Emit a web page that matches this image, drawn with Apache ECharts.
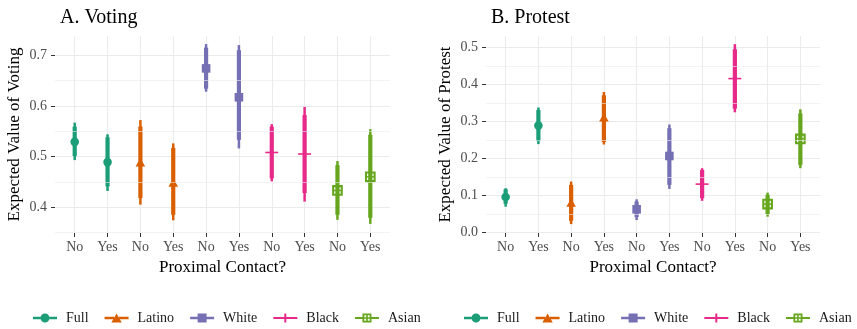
<!DOCTYPE html>
<html>
<head>
<meta charset="utf-8">
<script src="https://cdn.jsdelivr.net/npm/echarts@6/dist/echarts.min.js"></script>
<style>
html,body{margin:0;padding:0;background:#fff;}
#chart{width:857px;height:329px;}
</style>
</head>
<body>
<div id="chart"></div>
<script>
// ---- data ----
const groups = ['Full', 'Latino', 'White', 'Black', 'Asian'];
const contact = ['No', 'Yes'];
const panelTitles = ['A. Voting', 'B. Protest'];
const yTitles = ['Expected Value of Voting', 'Expected Value of Protest'];
const xTitle = 'Proximal Contact?';
const votingTicks = [0.4, 0.5, 0.6, 0.7];
const protestTicks = [0.0, 0.1, 0.2, 0.3, 0.4, 0.5];
const votingMinor = [0.35, 0.45, 0.55, 0.65];
const protestMinor = [0.05, 0.15, 0.25, 0.35, 0.45];

// per group: [No, Yes]
const votingEst  = [[0.529, 0.489], [0.487, 0.447], [0.674, 0.617], [0.508, 0.505], [0.433, 0.460]];
const votingLo95 = [[0.493, 0.432], [0.405, 0.374], [0.628, 0.516], [0.451, 0.411], [0.375, 0.367]];
const votingHi95 = [[0.567, 0.544], [0.572, 0.526], [0.722, 0.720], [0.564, 0.598], [0.491, 0.554]];
const votingLo66 = [[0.501, 0.441], [0.418, 0.385], [0.634, 0.533], [0.457, 0.428], [0.385, 0.379]];
const votingHi66 = [[0.559, 0.538], [0.559, 0.517], [0.715, 0.710], [0.559, 0.582], [0.483, 0.543]];

const protestEst  = [[0.096, 0.289], [0.079, 0.309], [0.063, 0.207], [0.131, 0.416], [0.077, 0.253]];
const protestLo95 = [[0.070, 0.239], [0.023, 0.238], [0.034, 0.118], [0.086, 0.325], [0.043, 0.174]];
const protestHi95 = [[0.120, 0.338], [0.138, 0.380], [0.090, 0.292], [0.174, 0.509], [0.108, 0.333]];
const protestLo66 = [[0.078, 0.247], [0.032, 0.245], [0.042, 0.129], [0.093, 0.335], [0.050, 0.183]];
const protestHi66 = [[0.117, 0.331], [0.129, 0.371], [0.084, 0.282], [0.169, 0.495], [0.102, 0.322]];

// ---- styling ----
const colors = ['#1B9E77', '#D95F02', '#7570B3', '#E7298A', '#66A61E'];
const FONT = "'Liberation Serif', 'Times New Roman', serif";
const GRID = '#EBEBEB';

// legend glyphs in a 24 x 9 box
const legendIcons = [
  'path://M0 3.25h7.6v2.5h-7.6z M16.4 3.25h7.6v2.5h-7.6z M7.5 4.5a4.5 4.5 0 1 0 9 0a4.5 4.5 0 1 0 -9 0z',
  'path://M0 3.25h9.5v2.5h-9.5z M14.5 3.25h9.5v2.5h-9.5z M12 0L17.2 9H6.8z',
  'path://M0 3.25h24v2.5h-24z M7.5 0h9v9h-9z',
  'path://M0 3.5h24v2h-24z M11 0h2v9h-2z',
  'path://M0 3.5h7.5v2h-7.5z M16.5 3.5h7.5v2h-7.5z M7.5 0h9v9h-9z M9.3 1.8v5.4h5.4v-5.4z M11.2 1.8h1.6v5.4h-1.6z M9.3 3.7h5.4v1.6h-5.4z'
];

const xLabels = [];
groups.forEach(() => contact.forEach(c => xLabels.push(c)));
const xIdx = xLabels.map((_, i) => i);

function markerShape(gi, cx, cy, color) {
  if (gi === 0) return {type: 'circle', shape: {cx, cy, r: 4.3}, style: {fill: color}};
  if (gi === 1) return {type: 'polygon', shape: {points: [[cx, cy - 5], [cx + 4.8, cy + 3.4], [cx - 4.8, cy + 3.4]]}, style: {fill: color}};
  if (gi === 2) return {type: 'rect', shape: {x: cx - 4.3, y: cy - 4.3, width: 8.6, height: 8.6}, style: {fill: color}};
  if (gi === 3) return {type: 'line', shape: {x1: cx - 6.5, y1: cy, x2: cx + 6.5, y2: cy}, style: {stroke: color, lineWidth: 1.6}};
  return {type: 'group', children: [
    {type: 'rect', shape: {x: cx - 4.3, y: cy - 4.3, width: 8.6, height: 8.6}, style: {fill: 'none', stroke: color, lineWidth: 2.1}},
    {type: 'line', shape: {x1: cx - 4.3, y1: cy, x2: cx + 4.3, y2: cy}, style: {stroke: color, lineWidth: 1.4}}
  ]};
}

function makeRender(gi) {
  return function (params, api) {
    const x = api.value(0);
    const p = api.coord([x, api.value(1)]);
    const a = api.coord([x, api.value(2)]);
    const b = api.coord([x, api.value(3)]);
    const c = api.coord([x, api.value(4)]);
    const d = api.coord([x, api.value(5)]);
    const color = colors[gi];
    return {type: 'group', children: [
      {type: 'line', shape: {x1: p[0], y1: a[1], x2: p[0], y2: b[1]}, style: {stroke: color, lineWidth: 2.5}},
      {type: 'line', shape: {x1: p[0], y1: c[1], x2: p[0], y2: d[1]}, style: {stroke: color, lineWidth: 4.2}},
      markerShape(gi, p[0], p[1], color)
    ]};
  };
}

function buildData(gi, est, lo, hi, lo2, hi2) {
  return contact.map((_, ci) => [gi * 2 + ci, est[gi][ci], lo[gi][ci], hi[gi][ci], lo2[gi][ci], hi2[gi][ci]]);
}

const panels = [
  {est: votingEst, lo: votingLo95, hi: votingHi95, lo2: votingLo66, hi2: votingHi66, ticks: votingTicks, minor: votingMinor, min: 0.349, max: 0.738, left: 55, width: 335},
  {est: protestEst, lo: protestLo95, hi: protestHi95, lo2: protestLo66, hi2: protestHi66, ticks: protestTicks, minor: protestMinor, min: -0.001, max: 0.531, left: 486, width: 334}
];

const grids = [], xAxes = [], yAxes = [], series = [], titles = [], legends = [];
panels.forEach((pn, k) => {
  grids.push({left: pn.left, width: pn.width, top: 36, height: 197, containLabel: false});
  xAxes.push({
    type: 'value', gridIndex: k, min: -0.6, max: 9.6,
    name: xTitle, nameLocation: 'middle', nameGap: 25,
    nameTextStyle: {fontFamily: FONT, fontSize: 17, color: '#000'},
    axisLine: {show: false, onZero: false},
    axisTick: {show: true, length: 4, customValues: xIdx, lineStyle: {color: '#333', width: 1}},
    axisLabel: {customValues: xIdx, formatter: v => xLabels[Math.round(v)], fontFamily: FONT, fontSize: 14, color: '#4D4D4D', margin: 7},
    splitLine: {show: true, lineStyle: {color: GRID, width: 1.1}}
  });
  yAxes.push({
    type: 'value', gridIndex: k, min: pn.min, max: pn.max,
    name: yTitles[k], nameLocation: 'middle', nameGap: 32, nameRotate: 90,
    nameTextStyle: {fontFamily: FONT, fontSize: 17, color: '#000'},
    axisLine: {show: false, onZero: false},
    axisTick: {show: true, length: 4, customValues: pn.ticks, lineStyle: {color: '#333', width: 1}},
    axisLabel: {customValues: pn.ticks, formatter: v => v.toFixed(1), fontFamily: FONT, fontSize: 14, color: '#4D4D4D', margin: 8},
    splitLine: {show: true, lineStyle: {color: GRID, width: 1.1}}
  });
  // minor horizontal grid lines
  series.push({
    type: 'line', xAxisIndex: k, yAxisIndex: k, data: [], silent: true, z: 1,
    markLine: {silent: true, symbol: 'none', label: {show: false}, animation: false,
      lineStyle: {color: GRID, width: 0.6, type: 'solid'},
      data: pn.minor.map(v => ({yAxis: v}))}
  });
  groups.forEach((g, gi) => {
    series.push({
      type: 'custom', name: g, xAxisIndex: k, yAxisIndex: k, z: 3,
      itemStyle: {color: colors[gi]},
      renderItem: makeRender(gi),
      encode: {x: 0, y: 1},
      data: buildData(gi, pn.est, pn.lo, pn.hi, pn.lo2, pn.hi2)
    });
  });
  titles.push({text: panelTitles[k], left: pn.left, top: 3,
    textStyle: {fontFamily: FONT, fontSize: 20, fontWeight: 'normal', color: '#000'}});
  legends.push({
    left: k === 0 ? 33 : 464, top: 311, orient: 'horizontal', padding: 0, width: 393,
    itemWidth: 24, itemHeight: 9, itemGap: 16, selectedMode: false,
    textStyle: {fontFamily: FONT, fontSize: 14, color: '#1a1a1a', padding: [0, 0, 0, 4]},
    data: groups.map((g, gi) => ({name: g, icon: legendIcons[gi], itemStyle: {color: colors[gi], borderWidth: 0}}))
  });
});

const chart = echarts.init(document.getElementById('chart'), null, {renderer: 'canvas'});
chart.setOption({
  animation: false,
  backgroundColor: '#fff',
  title: titles,
  legend: legends,
  grid: grids,
  xAxis: xAxes,
  yAxis: yAxes,
  series: series
});
</script>
</body>
</html>
